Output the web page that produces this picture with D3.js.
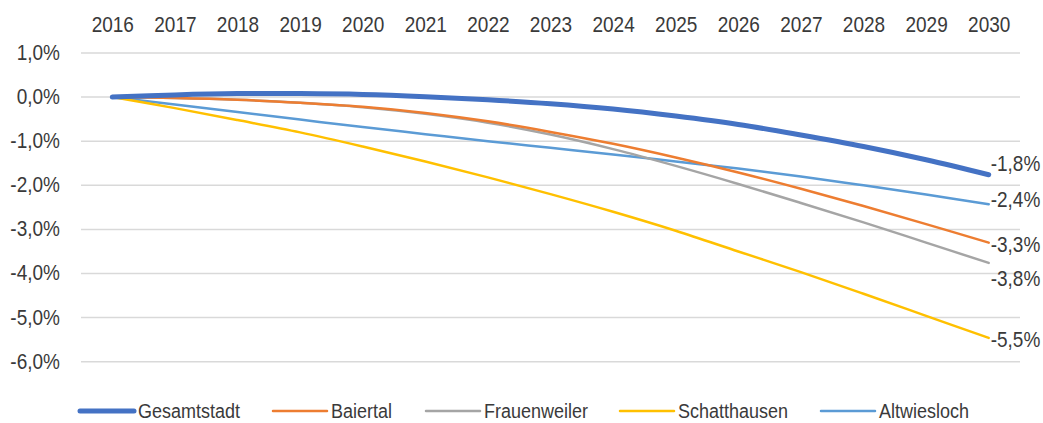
<!DOCTYPE html>
<html>
<head>
<meta charset="utf-8">
<script src="https://cdn.jsdelivr.net/npm/d3@7"></script>
<style>
  body { margin: 0; background: #fff; }
  svg text { font-family: "Liberation Sans", Arial, sans-serif; fill: #3a3a3a; }
  .grid line { stroke: #d9d9d9; stroke-width: 1.5px; }
</style>
</head>
<body>
<svg id="chart" width="1043" height="423"></svg>
<script>
// years on the category axis
const years = ['2016','2017','2018','2019','2020','2021','2022','2023','2024','2025','2026','2027','2028','2029','2030']
const yTicks = [1, 0, -1, -2, -3, -4, -5, -6]

// change vs. 2016, in percent
const gesamtstadt  = [0, 0.05, 0.08, 0.08, 0.06, 0.01, -0.06, -0.15, -0.27, -0.43, -0.62, -0.86, -1.12, -1.42, -1.76]
const baiertal     = [0, -0.02, -0.06, -0.13, -0.22, -0.36, -0.55, -0.79, -1.06, -1.37, -1.71, -2.08, -2.47, -2.88, -3.3]
const frauenweiler = [0, -0.02, -0.06, -0.13, -0.23, -0.38, -0.58, -0.85, -1.18, -1.56, -1.97, -2.4, -2.84, -3.3, -3.76]
const schatthausen = [0, -0.25, -0.52, -0.8, -1.12, -1.46, -1.82, -2.2, -2.6, -3.03, -3.5, -3.97, -4.46, -4.96, -5.46]
const altwiesloch  = [0, -0.17, -0.34, -0.51, -0.68, -0.84, -1.0, -1.15, -1.3, -1.46, -1.62, -1.8, -2.0, -2.21, -2.43]

const seriesNames = ['Gesamtstadt', 'Baiertal', 'Frauenweiler', 'Schatthausen', 'Altwiesloch']
const seriesValues = [gesamtstadt, baiertal, frauenweiler, schatthausen, altwiesloch]
const endLabels = ['-1,8%', '-3,3%', '-3,8%', '-5,5%', '-2,4%']

const colors = ['#4472c4', '#ed7d31', '#a5a5a5', '#ffc000', '#5b9bd5']
const widths = [5, 2.5, 2.5, 2.5, 2.5]
const labelNudge = [-11, 2, 16, 2, -5]   // keeps end labels apart
const legendX = [80, 273, 426, 620, 821]
const stretch = 'scale(1,1.13)'          // text in the original is a bit taller

const svg = d3.select('#chart')

const xScale = d3.scalePoint().domain(years).range([81, 1020]).padding(0.5)
const yScale = d3.scaleLinear().domain([-6, 1]).range([361.7, 53])

const pct = v => d3.format('.1f')(v).replace('.', ',').replace('−', '-') + '%'

// horizontal gridlines
svg.append('g')
    .classed('grid', true)
    .selectAll('line')
    .data(yTicks)
    .enter()
    .append('line')
    .attr('x1', 81)
    .attr('x2', 1020)
    .attr('y1', d => yScale(d))
    .attr('y2', d => yScale(d))

// y axis labels
const yAxis = svg.append('g')
    .attr('transform', 'translate(60,0)')
    .call(d3.axisLeft(yScale).tickValues(yTicks).tickFormat(pct).tickSize(0).tickPadding(0))
yAxis.select('.domain').remove()
yAxis.selectAll('text')
    .style('font-size', '19px')
    .attr('fill', null)
    .attr('dy', '0.3em')
    .attr('transform', stretch)

// year labels on top
const xAxis = svg.append('g')
    .attr('transform', 'translate(0,32)')
    .call(d3.axisTop(xScale).tickSize(0).tickPadding(0))
xAxis.select('.domain').remove()
xAxis.selectAll('text')
    .style('font-size', '19px')
    .attr('fill', null)
    .attr('transform', stretch)

const line = d3.line()
    .x((d, i) => xScale(years[i]))
    .y(d => yScale(d))
    .curve(d3.curveCatmullRom.alpha(0.5))

// draw thin lines first, Gesamtstadt on top
const order = [4, 3, 2, 1, 0]
svg.selectAll('.series')
    .data(order)
    .enter()
    .append('path')
    .classed('series', true)
    .attr('d', i => line(seriesValues[i]))
    .attr('fill', 'none')
    .attr('stroke', i => colors[i])
    .attr('stroke-width', i => widths[i])
    .attr('stroke-linecap', 'round')
    .attr('stroke-linejoin', 'round')

// end labels
svg.selectAll('.endLabel')
    .data(d3.range(seriesNames.length))
    .enter()
    .append('text')
    .classed('endLabel', true)
    .text(i => endLabels[i])
    .attr('transform', i => `translate(${xScale('2030') + 2},${yScale(seriesValues[i][years.length - 1]) + labelNudge[i]}) ${stretch}`)
    .attr('dy', '0.35em')
    .style('font-size', '19px')

// legend
const legend = svg.selectAll('.legend')
    .data(d3.range(seriesNames.length))
    .enter()
    .append('g')
    .classed('legend', true)
    .attr('transform', i => `translate(${legendX[i]},411)`)

legend.append('line')
    .attr('x1', 0)
    .attr('x2', 54)
    .attr('stroke', i => colors[i])
    .attr('stroke-width', i => widths[i])
    .attr('stroke-linecap', 'round')

legend.append('text')
    .text(i => seriesNames[i])
    .attr('transform', `translate(58,0) ${stretch}`)
    .attr('dy', '0.35em')
    .style('font-size', '18px')
</script>
</body>
</html>
